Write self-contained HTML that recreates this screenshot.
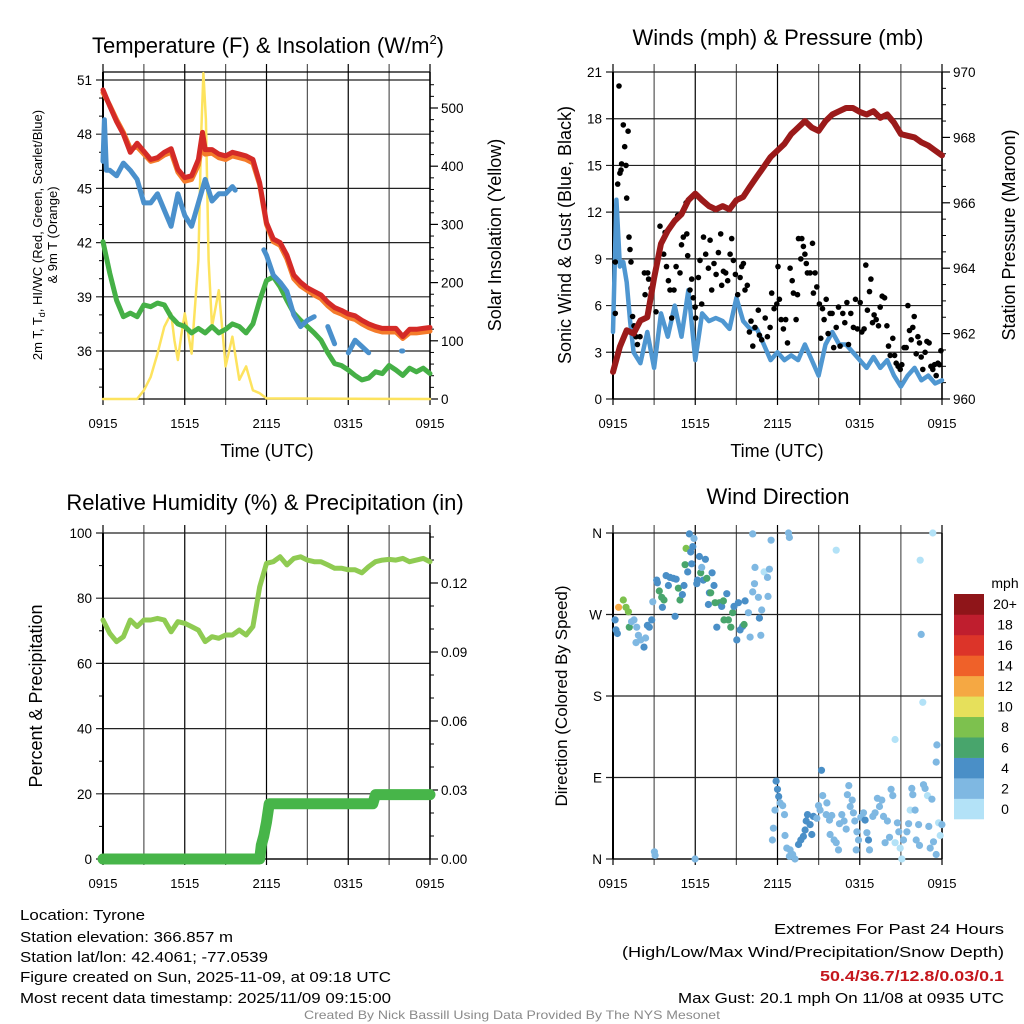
<!DOCTYPE html>
<html><head><meta charset="utf-8"><style>
html,body{margin:0;padding:0;background:#fff;}
svg{display:block;font-family:"Liberation Sans",Arial,sans-serif;}
</style></head><body>
<svg id="chart" width="1024" height="1024" viewBox="0 0 1024 1024" xmlns="http://www.w3.org/2000/svg">
<rect width="1024" height="1024" fill="#fff"/>
<g id="layer"></g>
<text x="268" y="53" font-size="22" text-anchor="middle">Temperature (F) &amp; Insolation (W/m<tspan font-size="13" dy="-9">2</tspan><tspan dy="9">)</tspan></text>
<text x="778" y="45" font-size="22" text-anchor="middle">Winds (mph) &amp; Pressure (mb)</text>
<text x="265" y="510" font-size="22" text-anchor="middle">Relative Humidity (%) &amp; Precipitation (in)</text>
<text x="778" y="504" font-size="22" text-anchor="middle">Wind Direction</text>
<text x="267" y="457" font-size="18" text-anchor="middle">Time (UTC)</text>
<text x="777" y="457" font-size="18" text-anchor="middle">Time (UTC)</text>
<text transform="translate(42,235) rotate(-90)" font-size="13" text-anchor="middle">2m T, T<tspan font-size="9" dy="3">d</tspan><tspan dy="-3">, HI/WC (Red, Green, Scarlet/Blue)</tspan></text>
<text transform="translate(57,235) rotate(-90)" font-size="13" text-anchor="middle">&amp; 9m T (Orange)</text>
<text transform="translate(501,235) rotate(-90)" font-size="18" text-anchor="middle">Solar Insolation (Yellow)</text>
<text transform="translate(571,235) rotate(-90)" font-size="18" text-anchor="middle">Sonic Wind &amp; Gust (Blue, Black)</text>
<text transform="translate(1015,235) rotate(-90)" font-size="18" text-anchor="middle">Station Pressure (Maroon)</text>
<text transform="translate(42,696) rotate(-90)" font-size="18" text-anchor="middle">Percent &amp; Precipitation</text>
<text transform="translate(567,696) rotate(-90)" font-size="17" text-anchor="middle">Direction (Colored By Speed)</text>
<text x="1005" y="588" font-size="14" text-anchor="middle">mph</text>
<g font-size="14.5">
<text x="20" y="920" textLength="125" lengthAdjust="spacingAndGlyphs">Location: Tyrone</text>
<text x="20" y="942" textLength="213" lengthAdjust="spacingAndGlyphs">Station elevation: 366.857 m</text>
<text x="20" y="962" textLength="248" lengthAdjust="spacingAndGlyphs">Station lat/lon: 42.4061; -77.0539</text>
<text x="20" y="982" textLength="371" lengthAdjust="spacingAndGlyphs">Figure created on Sun, 2025-11-09, at 09:18 UTC</text>
<text x="20" y="1003" textLength="371" lengthAdjust="spacingAndGlyphs">Most recent data timestamp: 2025/11/09 09:15:00</text>
<text x="1004" y="934" text-anchor="end" textLength="230" lengthAdjust="spacingAndGlyphs">Extremes For Past 24 Hours</text>
<text x="1004" y="957" text-anchor="end" textLength="382" lengthAdjust="spacingAndGlyphs">(High/Low/Max Wind/Precipitation/Snow Depth)</text>
<text x="1004" y="981" text-anchor="end" textLength="184" lengthAdjust="spacingAndGlyphs" fill="#c4161c" font-weight="bold">50.4/36.7/12.8/0.03/0.1</text>
<text x="1004" y="1003" text-anchor="end" textLength="326" lengthAdjust="spacingAndGlyphs">Max Gust: 20.1 mph On 11/08 at 0935 UTC</text>
</g>
<text x="512" y="1019" font-size="12" fill="#8a8a8a" text-anchor="middle" textLength="416" lengthAdjust="spacingAndGlyphs">Created By Nick Bassill Using Data Provided By The NYS Mesonet</text>
</svg>
<script>
// ---------- data ----------
const xTickLabels = ["0915","1515","2115","0315","0915"];
const tempT = [0,0.5,1,1.5,2,2.5,3,3.5,4,4.5,5,5.5,6,6.5,7,7.3,7.5,8,8.5,9,9.5,10,10.5,11,11.5,12,12.5,13,13.5,14,14.5,15,15.5,16,16.5,17,17.5,18,18.5,19,19.5,20,20.5,21,21.5,22,22.5,23,23.5,24];
const tempRed = [50.45,49.55,48.7,48.0,47.0,47.5,47.05,46.6,46.7,47.0,47.2,46.05,45.6,45.7,46.6,48.1,47.15,47.15,46.9,46.8,47.0,46.9,46.8,46.6,45.3,43.1,42.2,42.0,41.3,40.2,39.8,39.5,39.3,39.1,38.7,38.4,38.25,38.05,37.95,37.7,37.5,37.35,37.25,37.25,37.25,36.8,37.2,37.2,37.25,37.3];
const tempOrange = [50.3,49.6,48.8,48.1,47.2,47.3,46.9,46.5,46.6,46.85,47.0,45.9,45.4,45.5,46.3,47.6,46.9,46.95,46.7,46.6,46.8,46.7,46.6,46.4,45.2,43.0,42.05,41.85,41.1,40.0,39.6,39.35,39.1,38.9,38.5,38.2,38.05,37.85,37.75,37.5,37.3,37.15,37.05,37.05,37.05,36.7,37.0,37.0,37.05,37.1];
const dewT = [0,0.5,1,1.5,2,2.5,3,3.5,4,4.5,5,5.5,6,6.5,7,7.5,8,8.5,9,9.5,10,10.5,11,11.5,12,12.5,13,13.5,14,14.5,15,15.5,16,16.5,17,17.5,18,18.5,19,19.5,20,20.5,21,21.5,22,22.5,23,23.5,24];
const dewGreen = [42.05,40.3,38.8,37.9,38.1,37.9,38.55,38.45,38.65,38.55,37.9,37.5,37.35,37.0,37.25,37.0,37.35,37.0,37.2,37.5,37.35,37.0,37.5,38.8,39.9,40.1,39.55,38.8,38.1,37.7,37.35,37.0,36.6,35.9,35.3,35.2,34.95,34.65,34.4,34.5,34.85,34.75,35.2,34.95,34.65,35.05,34.85,35.05,34.75];
const hiT = [0,0.1,0.25,0.5,1,1.5,2,2.5,3,3.5,4,4.5,5,5.5,6,6.5,7,7.5,8,8.5,9,9.5,9.7,11.8,12,12.5,13,13.5,14,14.5,15,15.5,16.5,17,18,18.5,19,19.5,21.9,22.0];
const hiBlue = [46.5,48.8,46.0,46.0,45.7,46.4,46.0,45.5,44.2,44.2,44.7,43.8,42.9,44.7,43.5,42.9,44.2,45.5,44.3,44.7,44.7,45.1,44.9,41.6,41.3,40.2,39.8,39.3,38.0,37.35,37.7,37.9,37.35,36.4,35.9,36.6,36.25,35.9,36.0,36.0];
const hiBreak = [false,false,false,false,false,false,false,false,false,false,false,false,false,false,false,false,false,false,false,false,false,false,false,true,false,false,false,false,false,false,false,false,true,false,true,false,false,false,true,false];
const solarT = [0,2.5,3,3.5,4,4.5,5,5.25,5.5,5.75,6,6.5,7,7.2,7.37,7.55,7.75,8,8.5,9,9.5,10,10.5,11,11.5,12,24];
const solarW = [0,0,15,38,78,124,147,100,67,110,147,78,239,450,560,480,239,124,187,56,107,33,56,15,10,1,0];
const presT = [0,0.5,1,1.5,2,2.5,3,3.5,4,4.5,5,5.5,6,6.5,7,7.5,8,8.5,9,9.5,10,10.5,11,11.5,12,12.5,13,13.5,14,14.5,15,15.5,16,16.5,17,17.5,18,18.5,19,19.5,20,20.5,21,21.5,22,22.5,23,23.5,24];
const presMb = [960.83,961.6,962.1,962.0,962.4,962.5,963.7,964.75,965.15,965.45,965.65,966.08,966.28,966.08,965.9,965.8,965.9,965.8,966.08,966.18,966.5,966.8,967.1,967.4,967.6,967.8,968.1,968.3,968.5,968.3,968.2,968.5,968.7,968.8,968.9,968.9,968.78,968.7,968.8,968.6,968.7,968.45,968.1,968.05,968.0,967.85,967.75,967.6,967.45];
const windT = [0,0.25,0.5,0.75,1,1.25,1.5,2,2.5,3,3.5,4,4.5,5,5.5,6,6.5,7,7.5,8,8.5,9,9.5,10,10.5,11,11.5,12,12.5,13,13.5,14,14.5,15,15.5,16,16.5,17,17.5,18,18.5,19,19.5,20,20.5,21,21.5,22,22.5,23,23.5,24];
const windMph = [4.3,12.8,8.5,8.8,7.5,5,3,2.3,4.3,2,5.5,4,6,4,7,2.5,5.5,5,5.2,5,4.5,6.5,5,4.5,4.5,3.5,2.5,3,2.5,2.8,2.5,3.5,2.5,1.5,3.5,4.3,3.5,3.5,3,2.5,2.0,2.7,2,2.5,1.5,0.8,1.5,2,1.2,1.5,1.0,1.2];
const gustT = [0.17,0.17,0.44,0.34,0.5,0.58,0.63,0.75,0.85,0.95,1.0,1.1,1.17,1.24,1.31,1.43,1.53,1.68,1.78,1.97,2.34,2.29,2.53,2.6,2.77,3.14,3.24,3.43,3.8,3.7,3.9,4.04,4.16,4.28,4.45,4.6,4.72,4.89,5.0,5.13,5.33,5.38,5.45,5.62,5.74,5.86,5.99,6.03,6.23,6.35,6.47,6.6,6.76,6.96,7.08,7.2,7.37,7.52,7.69,7.86,7.93,8.05,8.22,8.37,8.54,8.66,8.78,8.93,9.1,9.27,9.39,9.51,9.63,9.8,9.95,10.07,10.2,10.36,10.6,10.68,10.85,11.1,11.26,11.46,11.58,11.75,11.95,12.04,12.14,12.26,12.43,12.6,12.73,12.92,13.07,13.16,13.36,13.46,13.53,13.77,13.7,13.89,14.0,14.1,14.18,14.38,14.55,14.62,14.74,14.87,15.06,15.16,15.28,15.4,15.55,15.69,15.84,15.98,16.1,16.28,16.45,16.57,16.76,16.91,17.06,17.18,17.35,17.54,17.69,17.83,18.03,18.15,18.32,18.44,18.56,18.71,18.81,18.93,19.05,19.2,19.37,19.49,19.64,19.81,19.98,20.1,20.22,20.41,20.54,20.66,20.8,20.95,21.07,21.24,21.39,21.51,21.63,21.75,21.87,21.97,22.12,22.24,22.36,22.48,22.6,22.77,22.9,23.06,23.19,23.33,23.45,23.58,23.7,23.82,23.92];
const gustMph = [8.8,5.5,20.1,13.8,14.5,14.7,15.1,17.6,16.2,15,12.9,17.2,10.4,9.6,8.8,5.3,4.7,4.0,3.5,4.0,6.7,8.1,8.1,7.7,7.1,5.6,8.9,11.1,10.7,9.3,8.5,7.6,7.0,5.2,7.0,8.5,11.8,8.1,9.9,10.4,12.6,10.6,9.2,7.0,7.7,6.5,5.9,5.2,7.8,8.9,6.1,10.4,9.3,8.4,10.2,7.0,8.7,8.0,9.4,10.6,7.3,8.2,8.1,7.6,9.3,10.3,8.9,8.0,6.7,7.8,8.5,8.7,7.0,7.3,4.3,5.0,3.4,4.6,5.7,4.1,3.8,5.2,4.0,4.6,6.8,5.8,6.1,8.5,6.4,5.1,4.5,5.1,3.6,8.4,7.6,6.8,5.1,6.7,10.3,10.3,9.0,9.8,9.3,8.7,8.1,8.1,10.0,6.8,8.1,7.2,6.1,3.9,5.8,5.1,6.4,4.2,5.5,5.5,3.3,4.6,5.9,3.4,5.5,4.9,6.2,3.5,5.5,4.6,6.4,4.5,6.2,4.3,4.5,8.6,5.7,6.9,7.7,4.9,5.4,5.1,4.7,5.9,6.6,6.5,4.7,3.4,2.8,3.9,2.8,2.3,2.1,1.9,2.2,3.3,3.3,6.0,4.4,3.8,4.6,5.3,2.9,4.0,3.6,2.7,1.9,3.0,3.7,3.6,2.1,1.9,2.2,1.5,2.3,2.2,3.1];
const rhT = dewT;
const rhPct = [73.3,69.2,66.7,68.2,73.3,71.3,73.3,73.3,73.8,73.3,69.7,72.8,72.3,71.3,70.2,66.7,68.2,67.7,68.7,68.7,70.2,68.7,71.3,83.5,90.7,91.2,92.7,90.2,92.2,92.7,91.7,91.2,91.2,90.2,89.2,89.2,88.7,88.7,87.8,89.7,91.2,91.7,91.9,91.7,92.2,91.2,91.7,92.2,91.2];
const precipT = [0,11.5,11.62,11.8,12.0,12.2,19.8,20.0,24];
const precipIn = [0,0,0.006,0.01,0.016,0.024,0.024,0.028,0.028];
const dirT = [0.15,0.22,0.32,0.41,0.75,0.95,1.12,1.19,1.36,1.53,1.73,1.85,1.68,2.02,2.26,2.38,2.51,2.65,2.82,2.9,3.19,3.24,3.38,3.55,3.72,3.6,3.87,4.04,4.16,4.4,4.6,4.77,4.53,4.89,5.06,5.18,5.26,5.33,5.45,5.57,5.67,5.82,5.91,5.74,6.11,6.16,6.3,6.4,6.47,6.59,6.74,6.84,7.03,7.13,7.23,7.37,7.45,6.96,7.57,7.76,7.93,8.05,8.1,8.3,8.42,8.59,8.73,8.83,9.03,9.15,9.27,9.46,9.56,9.64,9.88,10.0,10.19,10.32,10.36,10.61,10.68,10.78,10.85,11.02,11.27,11.41,11.31,10.19,11.53,3.02,3.07,5.99,12.8,12.87,16.28,22.41,23.33,22.48,22.6,20.58,23.63,23.58,15.21,11.9,12.0,12.09,12.19,12.38,11.82,12.51,11.7,11.63,12.55,12.68,12.92,13.11,13.28,12.87,13.53,13.7,13.89,14.01,14.09,14.19,14.38,14.5,14.62,14.87,14.99,15.11,15.3,15.6,15.55,15.79,15.96,15.84,16.13,16.28,16.45,16.52,16.69,16.86,17.01,17.1,17.2,17.3,17.45,17.54,17.64,17.79,17.74,17.91,18.08,18.27,18.39,18.52,18.64,18.71,18.95,19.12,19.29,19.44,19.61,19.73,19.85,20.02,20.17,20.29,20.41,20.58,20.75,20.85,20.95,21.07,21.19,21.44,21.56,21.68,21.8,21.87,22.04,22.12,22.29,22.36,22.65,22.77,22.94,23.04,23.14,23.26,23.38,23.58,23.75,23.87,23.99];
const dirDeg = [264,253,249,278,286,278,273,256,262,264,256,247,239,242,234,244,258,256,264,284,308,305,296,289,286,278,313,302,311,310,309,299,268,286,292,302,325,343,317,359,339,345,354,326,304,308,334,316,322,308,331,310,294,294,316,302,283,281,256,283,279,285,264,293,264,256,272,279,242,283,253,257,259,285,272,245,295,304,322,289,266,247,275,317,311,320,290,359,352,8,4,0,360,355,341,330,360,248,173,132,126,107,98,86,77,69,62,59,54,49,34,21,26,12,10,5,0,3,16,21,25,32,42,49,38,27,47,45,59,54,70,62,49,43,48,27,21,18,10,39,49,42,33,71,81,58,65,51,42,30,10,21,46,51,43,29,21,10,47,51,67,58,65,47,18,42,24,77,70,18,40,30,12,0,21,30,39,54,78,71,54,21,38,15,82,78,70,36,12,66,19,5,40,26,38];
const dirSpd = [4,4,4,12,8,8,8,6,3,3,3,3,3,3,4,3,4,4,4,2,4,4,6,6,6,4,4,4,4,4,4,6,4,6,4,4,6,8,4,4,4,4,2,4,4,4,4,6,2,4,4,6,4,6,4,4,6,4,4,6,4,6,6,4,6,6,6,4,4,4,4,4,6,4,2,3,2,3,3,2,4,3,2,1,3,3,3,3,3,2,2,3,2,3,1,1,1,2,1,1,2,2,4,4,4,4,3,3,3,3,3,3,3,3,3,2,2,3,4,4,4,4,4,4,4,4,4,3,3,3,3,3,3,3,3,3,3,3,3,3,3,3,3,3,2,3,3,3,3,3,3,3,3,3,4,3,4,3,3,3,3,3,3,3,3,3,3,3,3,1,3,3,1,1,3,2,3,1,3,3,3,3,3,3,3,2,1,2,3,2,3,2,1,1,2,2,3];
const cbLabels = ["0","2","4","6","8","10","12","14","16","18","20+"];
const cbColors = ["#b3e2f7","#7fb8e2","#4a8fc7","#48a56c","#7dc14e","#e6e05b","#f5a843","#ef6129","#dc3429","#bf1e2e","#8f1519"];

// ---------- helpers ----------
const NS = "http://www.w3.org/2000/svg";
const layer = document.getElementById("layer");
function el(tag, attrs, name, parent) {
  const e = document.createElementNS(NS, tag);
  for (const k in attrs) e.setAttribute(k, attrs[k]);
  
  
  (parent || layer).appendChild(e);
  return e;
}
function txt(x, y, s, size, anchor, name) {
  const t = el("text", {x: x, y: y, "font-size": size, "text-anchor": anchor}, name);
  t.textContent = s;
  return t;
}
function lin(d0, d1, p0, p1) { return v => p0 + (v - d0) * (p1 - p0) / (d1 - d0); }
function poly(ts, vs, xf, yf, color, w, name, breaks) {
  let d = "";
  for (let i = 0; i < ts.length; i++) {
    if (vs[i] === null) continue;
    const cmd = (d === "" || (breaks && breaks[i])) ? "M" : "L";
    d += cmd + xf(ts[i]).toFixed(1) + "," + yf(vs[i]).toFixed(1);
  }
  el("path", {d: d, fill: "none", stroke: color, "stroke-width": w, "stroke-linejoin": "round", "stroke-linecap": "round"}, name);
}

function panel(p) {
  const xs = lin(0, 24, p.x0, p.x1);
  const ys = lin(p.yMin, p.yMax, p.py0, p.py1);
  for (let h = 0; h <= 24; h += 3) {
    const x = xs(h);
    el("line", {x1: x, y1: p.top - 8, x2: x, y2: p.yb + 6, stroke: (h % 6 === 0) ? "#000" : "#555", "stroke-width": 1.2}, "x-grid-line");
  }
  p.yTicks.forEach(v => {
    const y = ys(v);
    el("line", {x1: p.x0 - 7, y1: y, x2: p.x1, y2: y, stroke: "#222", "stroke-width": 1.2}, "y-grid-line");
  });
  if (p.topLine) el("line", {x1: p.x0, y1: p.top, x2: p.x1, y2: p.top, stroke: "#000", "stroke-width": 1.2}, "top-border");
  if (p.yMinor) p.yMinor.forEach(v => {
    el("line", {x1: p.x0 - 4, y1: ys(v), x2: p.x0, y2: ys(v), stroke: "#000", "stroke-width": 1}, "y-minor-tick");
  });
  el("line", {x1: p.x0, y1: p.top, x2: p.x0, y2: p.yb, stroke: "#000", "stroke-width": 2}, "left-axis");
  el("line", {x1: p.x1, y1: p.top, x2: p.x1, y2: p.yb, stroke: "#000", "stroke-width": 1.5}, "right-axis");
  el("line", {x1: p.x0, y1: p.yb, x2: p.x1, y2: p.yb, stroke: "#000", "stroke-width": 1.2}, "bottom-axis");
  p.yTicks.forEach((v, i) => {
    txt(p.x0 - 11, ys(v) + 5, p.yLabels ? p.yLabels[i] : String(v), 13.5, "end", "y-tick-label");
  });
  xTickLabels.forEach((s, i) => {
    txt(xs(i * 6), p.yb + 29, s, 13, "middle", "x-tick-label");
  });
  return {xs: xs, ys: ys};
}
function rightAxis(p, dMin, dMax, py0, py1, ticks, labels, minor) {
  const yr = lin(dMin, dMax, py0, py1);
  ticks.forEach((v, i) => {
    el("line", {x1: p.x1, y1: yr(v), x2: p.x1 + 8, y2: yr(v), stroke: "#000", "stroke-width": 1.2}, "right-tick");
    txt(p.x1 + 11, yr(v) + 5, labels[i], 13.5, "start", "right-tick-label");
  });
  minor.forEach(v => {
    el("line", {x1: p.x1, y1: yr(v), x2: p.x1 + 4, y2: yr(v), stroke: "#000", "stroke-width": 1}, "right-minor-tick");
  });
  return yr;
}

// ---------- Temperature panel ----------
const pTL = {x0: 103, x1: 430, top: 72, yb: 399, yMin: 36, yMax: 51, py0: 351, py1: 80, yTicks: [36,39,42,45,48,51], yMinor: [34,35,37,38,40,41,43,44,46,47,49,50], topLine: true};
const aTL = panel(pTL);
const ySolar = rightAxis(pTL, 0, 500, 399, 108, [0,100,200,300,400,500], ["0","100","200","300","400","500"], [20,40,60,80,120,140,160,180,220,240,260,280,320,340,360,380,420,440,460,480,520,540]);
poly(solarT, solarW, aTL.xs, ySolar, "#fde35e", 2.5, "solar-line");
poly(dewT, dewGreen, aTL.xs, aTL.ys, "#45b046", 5, "dewpoint-line");
poly(hiT, hiBlue, aTL.xs, aTL.ys, "#4a90cc", 5, "heat-index-line", hiBreak);
poly(tempT, tempOrange, aTL.xs, aTL.ys, "#f47b2a", 5, "temp-9m-line");
poly(tempT, tempRed, aTL.xs, aTL.ys, "#d42a27", 5, "temp-2m-line");

// ---------- Wind panel ----------
const pTR = {x0: 613, x1: 942, top: 72, yb: 399, yMin: 0, yMax: 21, py0: 399, py1: 72, yTicks: [0,3,6,9,12,15,18,21]};
const aTR = panel(pTR);
const yPres = rightAxis(pTR, 960, 970, 399, 72, [960,962,964,966,968,970], ["960","962","964","966","968","970"], [960.5,961,961.5,962.5,963,963.5,964.5,965,965.5,966.5,967,967.5,968.5,969,969.5]);
poly(windT, windMph, aTR.xs, aTR.ys, "#4f97d1", 4.5, "wind-speed-line");
for (let i = 0; i < gustT.length; i++) {
  const c = el("circle", {cx: aTR.xs(gustT[i]).toFixed(1), cy: aTR.ys(gustMph[i]).toFixed(1), r: 2.8, fill: "#000"}, "gust-point");
}
poly(presT, presMb, aTR.xs, yPres, "#9b1a1a", 6, "pressure-line");

// ---------- Humidity panel ----------
const pBL = {x0: 103, x1: 430, top: 533, yb: 859, yMin: 0, yMax: 100, py0: 859, py1: 533, yTicks: [0,20,40,60,80,100], yMinor: [10,30,50,70,90]};
const aBL = panel(pBL);
const yPrec = rightAxis(pBL, 0, 0.03, 859, 790, [0,0.03,0.06,0.09,0.12], ["0.00","0.03","0.06","0.09","0.12"], [0.01,0.02,0.04,0.05,0.07,0.08,0.1,0.11,0.13,0.14]);
poly(rhT, rhPct, aBL.xs, aBL.ys, "#8fcb52", 5, "humidity-line");
poly(precipT, precipIn, aBL.xs, yPrec, "#47b549", 11, "precip-line");

// ---------- Direction panel ----------
const pBR = {x0: 613, x1: 942, top: 533, yb: 859, yMin: 0, yMax: 360, py0: 859, py1: 533, yTicks: [0,90,180,270,360], yLabels: ["N","E","S","W","N"]};
const aBR = panel(pBR);
function spdColor(s) { return cbColors[Math.min(10, Math.floor(s / 2))]; }
for (let i = 0; i < dirT.length; i++) {
  const c = el("circle", {cx: aBR.xs(dirT[i]).toFixed(1), cy: aBR.ys(dirDeg[i]).toFixed(1), r: 3.6, fill: spdColor(dirSpd[i])}, "direction-point");
}
const cbY = lin(0, 11, 819, 594);
cbColors.forEach((c, i) => {
  el("rect", {x: 954, y: cbY(i + 1), width: 30, height: cbY(i) - cbY(i + 1) + 0.3, fill: c}, "colorbar-swatch");
  txt(1005, (cbY(i) + cbY(i + 1)) / 2 + 5, cbLabels[i], 14, "middle", "colorbar-label");
});
</script>
</body></html>
